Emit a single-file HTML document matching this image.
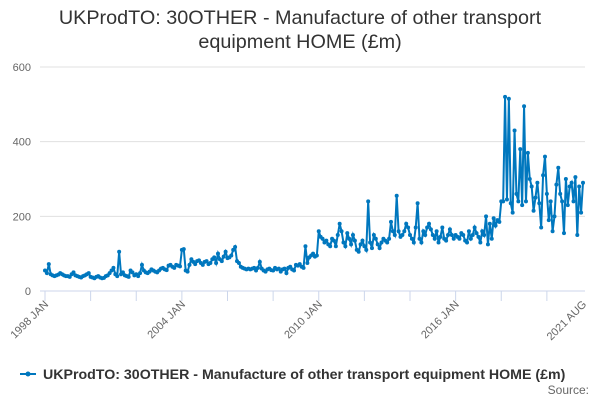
<!DOCTYPE html>
<html><head><meta charset="utf-8"><style>
body{margin:0;background:#fff;font-family:"Liberation Sans",sans-serif}
#c{position:absolute;left:0;top:0}
</style></head><body>
<svg id="c" width="600" height="400">
<text x="300" y="24" text-anchor="middle" font-size="19.8" fill="#333">UKProdTO: 30OTHER - Manufacture of other transport</text>
<text x="300" y="48" text-anchor="middle" font-size="19.8" fill="#333">equipment HOME (£m)</text>
<g id="grid"></g><g id="ax"></g><g id="series"></g>
<g>
<line x1="20" y1="374" x2="36" y2="374" stroke="#0077be" stroke-width="2"/><circle cx="28" cy="374" r="2.5" fill="#0077be"/>
<text x="43" y="379" font-size="14.2" font-weight="bold" fill="#333">UKProdTO: 30OTHER - Manufacture of other transport equipment HOME (£m)</text></g>
<text x="589" y="394" text-anchor="end" font-size="12" fill="#666">Source:</text>
</svg>
<script>
const yTicks=[0,200,400,600];
const xLabels=["1998 JAN","2004 JAN","2010 JAN","2016 JAN","2021 AUG"];
const xLabelIdx=[0,72,144,216,283];
const values=[
55,48,72,45,42,40,42,44,48,45,42,40,
40,38,45,50,42,40,38,36,40,42,45,48,
38,36,34,38,40,36,34,35,40,42,48,55,
62,45,40,105,45,50,42,40,38,55,50,42,
45,40,48,70,55,50,48,52,58,55,52,50,
55,60,62,58,56,68,70,65,62,70,68,66,
110,112,55,52,70,85,78,72,80,82,75,70,
78,80,72,75,85,90,75,100,85,80,92,105,
88,90,95,110,118,80,75,65,62,60,58,60,
58,60,62,55,62,78,60,55,52,58,60,56,
55,62,58,60,52,58,60,48,62,65,58,55,
70,68,72,65,62,120,75,90,95,100,92,95,
160,145,140,130,135,125,120,140,135,120,150,180,
160,130,120,155,140,125,150,135,110,105,125,135,
120,110,240,130,115,150,140,125,115,130,140,135,
130,140,185,160,150,255,160,145,150,160,180,170,
150,140,130,170,235,140,130,160,150,170,180,165,
150,140,160,130,145,170,140,135,150,165,150,140,
150,145,140,155,150,135,130,160,140,150,170,155,
145,130,160,150,200,125,180,140,195,175,190,185,
240,240,520,245,515,235,210,430,260,240,380,230,
495,240,370,300,280,215,250,290,235,170,310,360,
260,190,240,160,200,285,330,260,240,155,300,230,
280,290,240,305,150,280,210,290];
const NS="http://www.w3.org/2000/svg";
const X0=45,X1=583,Y0=291,Y600=67;
const xs=i=>X0+(X1-X0)*i/(values.length-1);
const ys=v=>Y0-(Y0-Y600)*v/600;
function mk(t,a,p){const e=document.createElementNS(NS,t);for(const k in a)e.setAttribute(k,a[k]);p.appendChild(e);return e;}
const grid=document.getElementById('grid'),ax=document.getElementById('ax'),ser=document.getElementById('series');
yTicks.forEach(v=>{
 const l=mk('line',{x1:X0-5,x2:585,y1:ys(v),y2:ys(v),stroke:v?'#e0e0e0':'#ccd6eb'},grid);
 
 
 const t=mk('text',{x:31,y:ys(v)+4,'text-anchor':'end','font-size':11,fill:'#666'},ax);
 t.textContent=v;
 
 
});
for(let i=0;i<values.length;i+=24){
 const tk=mk('line',{x1:xs(i),x2:xs(i),y1:Y0,y2:Y0+10,stroke:'#ccd6eb'},ax);
 
 
}
xLabels.forEach((s,k)=>{
 const x=xs(xLabelIdx[k]);
 const t=mk('text',{x:x+4,y:Y0+14,'text-anchor':'end','font-size':11,fill:'#666',transform:`rotate(-45 ${x+4} ${Y0+14})`},ax);
 t.textContent=s;
 
 
});
const p=mk('polyline',{points:values.map((v,i)=>xs(i)+','+ys(v)).join(' '),fill:'none',stroke:'#0077be','stroke-width':2},ser);


values.forEach((v,i)=>{
 const c=mk('circle',{cx:xs(i),cy:ys(v),r:2,fill:'#0077be'},ser);
 
 
});
</script>
</body></html>
